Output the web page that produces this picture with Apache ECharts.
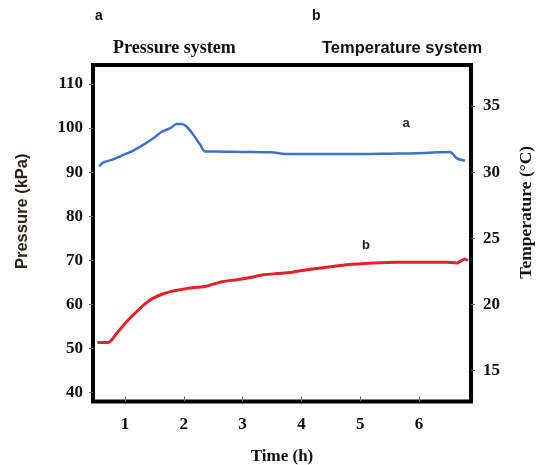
<!DOCTYPE html>
<html>
<head>
<meta charset="utf-8">
<script src="https://cdn.jsdelivr.net/npm/echarts@6/dist/echarts.min.js"></script>
<style>html,body{margin:0;padding:0;background:#fff;}#c{width:538px;height:465px;}</style>
</head>
<body>
<div id="c"></div>
<script>
// Time (h) and pressure (kPa) for curve a
const pressureTime = [0.56, 0.63, 0.80, 0.97, 1.14, 1.31, 1.48, 1.62, 1.77, 1.88, 1.96, 2.05, 2.16, 2.28, 2.36, 2.5, 3.0, 3.47, 3.81, 4.3, 4.8, 5.05, 5.5, 5.97, 6.3, 6.53, 6.64, 6.78];
const pressureValues = [91.3, 92.2, 92.9, 93.9, 94.9, 96.2, 97.7, 99.1, 100.0, 100.9, 100.9, 100.3, 98.5, 96.2, 94.7, 94.7, 94.6, 94.5, 94.1, 94.1, 94.1, 94.1, 94.2, 94.3, 94.5, 94.6, 93.2, 92.6];
// Time (h) and temperature (°C) for curve b
const tempTime = [0.53, 0.72, 0.86, 1.03, 1.20, 1.34, 1.48, 1.65, 1.82, 1.99, 2.16, 2.36, 2.50, 2.67, 2.90, 3.13, 3.35, 3.58, 3.81, 3.98, 4.54, 4.77, 5.22, 5.62, 6.05, 6.47, 6.64, 6.78, 6.83];
const tempValues = [17.13, 17.13, 17.84, 18.72, 19.47, 20.05, 20.48, 20.81, 21.03, 21.16, 21.28, 21.36, 21.54, 21.74, 21.87, 22.04, 22.24, 22.34, 22.42, 22.55, 22.87, 23.0, 23.13, 23.2, 23.2, 23.2, 23.13, 23.43, 23.32];
// Tick labels
const timeTicks = [1, 2, 3, 4, 5, 6];
const pressureTicks = [40, 50, 60, 70, 80, 90, 100, 110];
const tempTicks = [15, 20, 25, 30, 35];

const serif = "'Liberation Serif', 'Times New Roman', serif";
const sans = "'Liberation Sans', Arial, sans-serif";

const chart = echarts.init(document.getElementById('c'), null, {renderer: 'canvas'});
chart.setOption({
  animation: false,
  backgroundColor: '#fff',
  title: [
    {text: 'a', left: 95, top: 9, padding: 0, textStyle: {fontFamily: sans, fontWeight: 'bold', fontSize: 14, color: '#111'}},
    {text: 'Pressure system', left: 113, top: 39, padding: 0, textStyle: {fontFamily: serif, fontWeight: 'bold', fontSize: 18, color: '#111'}},
    {text: 'b', left: 312, top: 9, padding: 0, textStyle: {fontFamily: sans, fontWeight: 'bold', fontSize: 14, color: '#111'}},
    {text: 'Temperature system', left: 322, top: 40, padding: 0, textStyle: {fontFamily: sans, fontWeight: 'bold', fontSize: 16.5, color: '#111'}}
  ],
  grid: {left: 93, top: 65, right: 67, bottom: 63.5, containLabel: false, outerBoundsMode: 'none', show: true, borderColor: '#000', borderWidth: 4, backgroundColor: 'transparent'},
  xAxis: {
    type: 'value', min: 0.455, max: 6.885,
    name: 'Time (h)', nameLocation: 'middle', nameGap: 47,
    nameTextStyle: {fontFamily: serif, fontWeight: 'bold', fontSize: 17, color: '#111'},
    axisLine: {show: false},
    axisTick: {show: true, inside: true, length: 5, customValues: timeTicks, lineStyle: {color: '#666'}},
    axisLabel: {customValues: timeTicks, margin: 15, fontFamily: serif, fontWeight: 'bold', fontSize: 17, color: '#111'},
    splitLine: {show: false}
  },
  yAxis: [
    {
      type: 'value', min: 38, max: 114.3, position: 'left',
      name: 'Pressure (kPa)', nameLocation: 'middle', nameGap: 62, nameRotate: 90,
      nameTextStyle: {fontFamily: sans, fontWeight: 'bold', fontSize: 16.5, color: '#2a2416', padding: [0, 0, 0, 44]},
      axisLine: {show: false},
      axisTick: {show: true, length: 4, customValues: pressureTicks, lineStyle: {color: '#666'}},
      axisLabel: {customValues: pressureTicks, margin: 10, fontFamily: serif, fontWeight: 'bold', fontSize: 17, color: '#111'},
      splitLine: {show: false}
    },
    {
      type: 'value', min: 12.6667, max: 38.1, position: 'right',
      name: 'Temperature (°C)', nameLocation: 'middle', nameGap: 46, nameRotate: 90,
      nameTextStyle: {fontFamily: serif, fontWeight: 'bold', fontSize: 17.5, color: '#111', padding: [0, 0, 0, 42]},
      axisLine: {show: false},
      axisTick: {show: true, length: 4, customValues: tempTicks, lineStyle: {color: '#666'}},
      axisLabel: {customValues: tempTicks, margin: 12, fontFamily: serif, fontWeight: 'bold', fontSize: 17, color: '#111'},
      splitLine: {show: false}
    }
  ],
  series: [
    {
      name: 'a', type: 'line', yAxisIndex: 0, showSymbol: false, smooth: 0.3,
      data: pressureTime.map((t, i) => [t, pressureValues[i]]),
      lineStyle: {color: '#4270c8', width: 2.5},
      markPoint: {
        symbol: 'circle', symbolSize: 1, itemStyle: {color: 'rgba(0,0,0,0)'},
        label: {show: true, position: 'inside', formatter: 'a', fontFamily: sans, fontWeight: 'bold', fontSize: 13, color: '#222'},
        data: [{coord: [5.78, 101.1]}]
      }
    },
    {
      name: 'b', type: 'line', yAxisIndex: 1, showSymbol: false, smooth: 0.2,
      data: tempTime.map((t, i) => [t, tempValues[i]]),
      lineStyle: {color: '#e4202a', width: 3},
      markPoint: {
        symbol: 'circle', symbolSize: 1, itemStyle: {color: 'rgba(0,0,0,0)'},
        label: {show: true, position: 'inside', formatter: 'b', fontFamily: sans, fontWeight: 'bold', fontSize: 13, color: '#222'},
        data: [{coord: [5.10, 24.45]}]
      }
    }
  ]
});
</script>
</body>
</html>
